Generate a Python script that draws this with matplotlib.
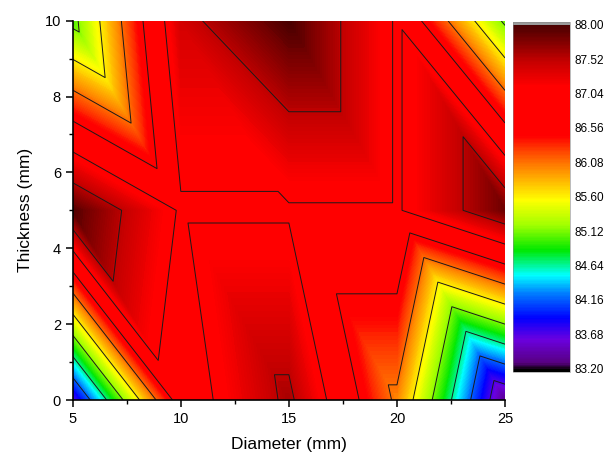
import numpy as np
import matplotlib.pyplot as plt
import matplotlib.tri as mtri
from matplotlib.colors import LinearSegmentedColormap, Normalize
from matplotlib.cm import ScalarMappable
from matplotlib.ticker import MultipleLocator

plt.rcParams['font.family'] = ['Liberation Sans', 'DejaVu Sans']

# ==================== data (grid) ====================
diameter = [5, 10, 15, 20, 25]          # mm
thickness = [0, 5, 10]                  # mm
# one row per thickness value
value = [
    [83.65, 86.80, 87.60, 86.00, 83.30],   # thickness 0
    [87.95, 87.00, 87.00, 87.00, 87.85],   # thickness 5
    [85.00, 87.40, 88.00, 87.00, 85.05],   # thickness 10
]
cbar_ticks = [83.20, 83.68, 84.16, 84.64, 85.12, 85.60,
              86.08, 86.56, 87.04, 87.52, 88.00]
zmin, zmax = 83.20, 88.00

# ==================== triangulation (diagonal top-left -> bottom-right) ====================
X, Y = np.meshgrid(diameter, thickness)
Z = np.array(value)
nx = len(diameter)
tris = []
for r in range(len(thickness) - 1):
    for c in range(nx - 1):
        bl, br = r * nx + c, r * nx + c + 1
        tl, tr = (r + 1) * nx + c, (r + 1) * nx + c + 1
        tris.append([bl, br, tl])
        tris.append([br, tr, tl])
tri = mtri.Triangulation(X.ravel(), Y.ravel(), tris)

# ==================== colour map (Origin-like rainbow) ====================
anchors = [
    (83.20, '#1a0020'), (83.27, '#580080'), (83.60, '#6a00e0'),
    (83.90, '#0000ff'), (84.25, '#0080ff'), (84.50, '#00ffff'),
    (84.85, '#00e800'), (85.20, '#a0ff00'), (85.55, '#ffff00'),
    (85.95, '#ff9600'), (86.25, '#ff4000'), (86.45, '#ff0000'),
    (87.15, '#ff0000'), (87.50, '#c40000'), (87.75, '#860000'),
    (88.00, '#4a0000'),
]
cmap = LinearSegmentedColormap.from_list(
    'origin', [((v - zmin) / (zmax - zmin), col) for v, col in anchors])
cmap.set_over('#9a9a9a')
cmap.set_under('#000000')
norm = Normalize(zmin, zmax)

# ==================== plot ====================
fig = plt.figure(figsize=(6.06, 4.59), dpi=100)
ax = fig.add_axes([0.12, 0.1285, 0.7134, 0.8264])

fill_levels = np.linspace(zmin, zmax, 241)
ax.tricontourf(tri, Z.ravel(), levels=fill_levels, cmap=cmap, norm=norm,
               extend='both', antialiased=False)
ax.tricontour(tri, Z.ravel(), levels=cbar_ticks[1:-1], colors='#1a1a1a',
              linewidths=0.7)

ax.set_xlim(5, 25)
ax.set_ylim(0, 10)
ax.xaxis.set_major_locator(MultipleLocator(5))
ax.xaxis.set_minor_locator(MultipleLocator(2.5))
ax.yaxis.set_major_locator(MultipleLocator(2))
ax.yaxis.set_minor_locator(MultipleLocator(1))
ax.tick_params(which='major', direction='out', length=5, width=1.1,
               labelsize=10.5)
ax.tick_params(which='minor', direction='out', length=3, width=1.0)
for s in ['top', 'right']:
    ax.spines[s].set_visible(False)
for s in ['left', 'bottom']:
    ax.spines[s].set_linewidth(1.2)
ax.set_xlabel('Diameter (mm)', fontsize=12.5, labelpad=8)
ax.set_ylabel('Thickness (mm)', fontsize=12.5, labelpad=8)

cax = fig.add_axes([0.846, 0.1902, 0.0952, 0.7625])
cb = fig.colorbar(ScalarMappable(norm=norm, cmap=cmap), cax=cax,
                  extend='both', extendrect=True, extendfrac=0.009,
                  ticks=cbar_ticks)
cb.ax.set_yticklabels([f'{t:.2f}' for t in cbar_ticks])
cb.ax.tick_params(length=0, labelsize=8.5, pad=3)
cb.outline.set_linewidth(0.4)
cb.outline.set_edgecolor('#888888')

fig.savefig('out.png', dpi=100)
